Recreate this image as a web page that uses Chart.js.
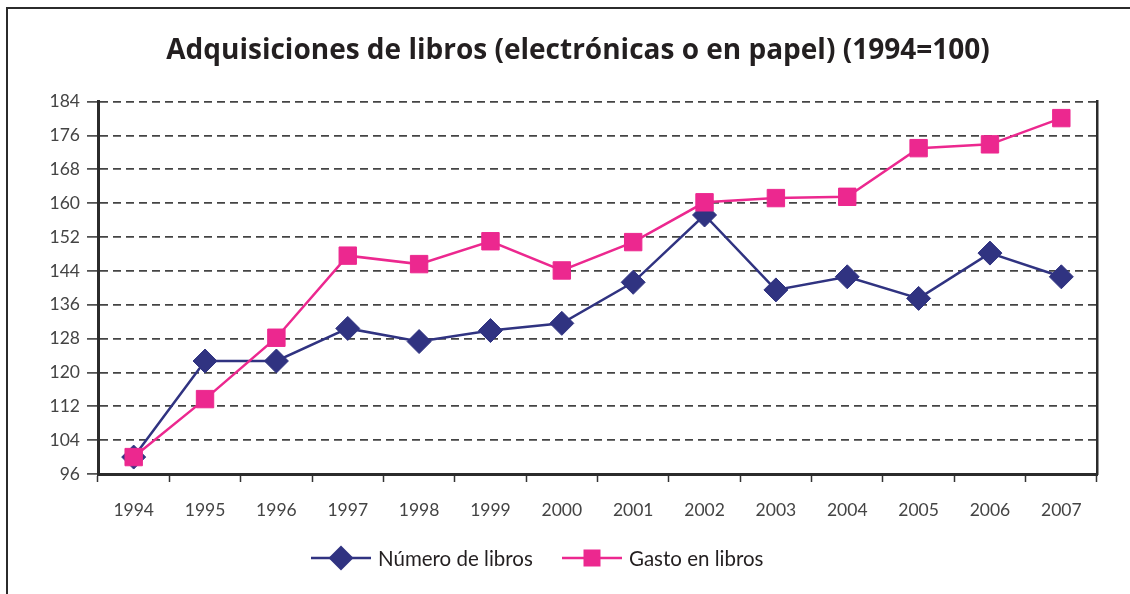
<!DOCTYPE html>
<html><head><meta charset="utf-8">
<script src="https://cdn.jsdelivr.net/npm/chart.js@4.4.1/dist/chart.umd.min.js"></script>
<style>
html,body{margin:0;padding:0;background:#fff;}
#wrap{position:relative;width:1130px;height:594px;overflow:hidden;background:#fff;}
#frame{position:absolute;left:6px;top:7px;width:1300px;height:800px;border:2px solid #2b2b2b;box-sizing:border-box;pointer-events:none;}
#c{position:absolute;left:0;top:0;}
.lg{position:absolute;top:542px;height:32px;display:flex;align-items:center;font-family:Lato,'Noto Sans',sans-serif;font-size:20.5px;color:#231f20;white-space:nowrap;}
.lg svg{display:block;margin-right:7px;}
</style></head>
<body>
<div id="wrap">
<div id="frame"></div>
<canvas id="c" width="1130" height="594"></canvas>
<div class="lg" id="lg1" style="left:311px"></div>
<div class="lg" id="lg2" style="left:562px"></div>
</div>
<script>
const years = ['1994','1995','1996','1997','1998','1999','2000','2001','2002','2003','2004','2005','2006','2007'];
const numeroLibros = [100, 122.7, 122.7, 130.4, 127.3, 129.9, 131.6, 141.3, 157.2, 139.5, 142.6, 137.5, 148.2, 142.6];
const gastoLibros = [100, 113.7, 128.2, 147.6, 145.6, 151.0, 144.1, 150.8, 160.2, 161.2, 161.5, 173.0, 173.9, 180.1];
const yMin = 96, yMax = 184, yStep = 8;
const titleText = 'Adquisiciones de libros (electrónicas o en papel) (1994=100)';
const seriesNames = ['Número de libros', 'Gasto en libros'];

const BLUE = '#303381';
const PINK = '#EC288F';

// legend
function icon(color, shape){
  let m = shape === 'diamond'
    ? `<polygon points="30,2.5 42.5,15 30,27.5 17.5,15" fill="${color}"/>`
    : `<rect x="21.5" y="6.5" width="17" height="17" fill="${color}"/>`;
  return `<svg width="60" height="30" viewBox="0 0 60 30"><line x1="0" y1="15" x2="60" y2="15" stroke="${color}" stroke-width="2.5"/>${m}</svg>`;
}
document.getElementById('lg1').innerHTML = icon(BLUE,'diamond') + '<span>' + seriesNames[0] + '</span>';
document.getElementById('lg2').innerHTML = icon(PINK,'square') + '<span>' + seriesNames[1] + '</span>';

const FONT = "Lato, 'Noto Sans', sans-serif";

new Chart(document.getElementById('c'), {
  type: 'line',
  data: {
    labels: years,
    datasets: [
      {label: seriesNames[0], data: numeroLibros, borderColor: BLUE, backgroundColor: BLUE,
       borderWidth: 2.5, pointStyle: 'rectRot', pointRadius: 12, pointBorderWidth: 1,
       pointBackgroundColor: BLUE, pointBorderColor: BLUE, tension: 0, order: 2},
      {label: seriesNames[1], data: gastoLibros, borderColor: PINK, backgroundColor: PINK,
       borderWidth: 2.5, pointStyle: 'rect', pointRadius: 12.3, pointBorderWidth: 1,
       pointBackgroundColor: PINK, pointBorderColor: PINK, tension: 0, order: 1}
    ]
  },
  options: {
    responsive: false,
    animation: false,
    events: [],
    layout: {padding: {left: 26, right: 0, top: 0, bottom: 0}},
    plugins: {
      legend: {display: false},
      tooltip: {enabled: false},
      title: {
        display: true, text: titleText, color: '#231f20',
        font: {family: "'Open Sans', Lato, sans-serif", size: 28, weight: 'bold', lineHeight: 1.2},
        padding: {top: 34, bottom: 34}
      }
    },
    scales: {
      x: {
        type: 'category', offset: true,
        grid: {display: true, drawOnChartArea: false, drawTicks: true, offset: true,
               tickLength: 8, tickColor: '#333', tickWidth: 1.5},
        border: {display: true, color: '#2b2b2b', width: 3},
        ticks: {color: '#444', font: {family: FONT, size: 17.5}, padding: 18, maxRotation: 0, autoSkip: false},
        afterFit: s => { s.height = 120; }
      },
      y: {
        type: 'linear', position: 'left', min: yMin, max: yMax,
        ticks: {stepSize: yStep, color: '#444', font: {family: FONT, size: 17.5}, padding: 7},
        grid: {display: true, drawOnChartArea: true, drawTicks: true, tickLength: 11,
               color: '#444', lineWidth: 1.8, tickColor: '#333', tickWidth: 1.5, tickBorderDash: []},
        border: {display: true, color: '#2b2b2b', width: 3, dash: [8, 5]},
        afterFit: s => { s.width = 72; }
      },
      y2: {
        type: 'linear', position: 'right', min: yMin, max: yMax,
        ticks: {display: false},
        grid: {display: false, drawTicks: false, drawOnChartArea: false},
        border: {display: true, color: '#2b2b2b', width: 2.5},
        afterFit: s => { s.width = 33; }
      }
    }
  }
});
</script>
</body></html>
